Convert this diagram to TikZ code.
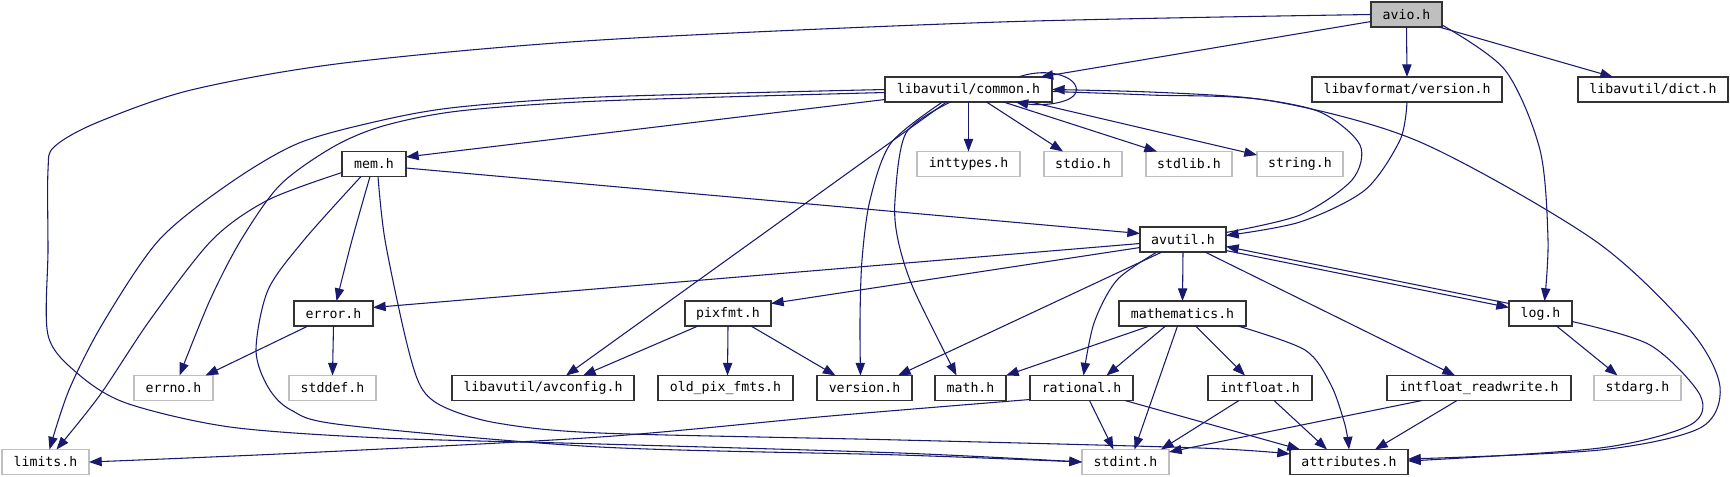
\documentclass[tikz,border=0pt]{standalone}
\usepackage{fontspec}
\newfontfamily\dvsm{DejaVu Sans Mono}
\usetikzlibrary{arrows.meta,calc}
\definecolor{navy}{HTML}{191970}
\definecolor{gfill}{HTML}{BFBFBF}
\begin{document}
\begin{tikzpicture}[x=0.75pt,y=-0.75pt,
  box/.style={line width=0.8pt, minimum width=#1*0.75pt, minimum height=18.75pt, inner sep=0pt, outer sep=0pt, font=\dvsm\fontsize{9.9}{12}\selectfont, text=black},
  blk/.style={box=#1, draw=black!80},
  sys/.style={box=#1, draw=gfill},
  dep/.style={draw=navy, line width=0.8pt, -{Triangle[length=9.5pt,width=7pt]}}]
\useasboundingbox[fill=white] (0,0) rectangle (1730,476);
% nodes
\node[blk=71, fill=gfill] (avio) at (1406.5,14.5) {avio.h};
\node[blk=167] (common) at (968.5,89.5) {libavutil/common.h};
\node[blk=190] (lavfv) at (1407,89.5) {libavformat/version.h};
\node[blk=150] (dict) at (1653,89.5) {libavutil/dict.h};
\node[blk=64] (mem) at (374,164) {mem.h};
\node[sys=103] (inttypes) at (968.5,164) {inttypes.h};
\node[sys=78] (stdio) at (1083,164) {stdio.h};
\node[sys=86] (stdlib) at (1189,164) {stdlib.h};
\node[sys=86] (string) at (1300,164) {string.h};
\node[blk=86] (avutil) at (1183,239.5) {avutil.h};
\node[blk=79] (error) at (333.5,313.5) {error.h};
\node[blk=86] (pixfmt) at (728,313.5) {pixfmt.h};
\node[blk=127] (mathematics) at (1182.5,313.5) {mathematics.h};
\node[blk=63] (log) at (1540.5,313.5) {log.h};
\node[sys=79] (errno) at (173.5,388) {errno.h};
\node[sys=87] (stddef) at (332.5,388) {stddef.h};
\node[blk=182] (avconfig) at (543,388) {libavutil/avconfig.h};
\node[blk=135] (oldpix) at (725.5,388) {old\_pix\_fmts.h};
\node[blk=95] (version) at (864.5,388) {version.h};
\node[blk=71] (math) at (970.5,388) {math.h};
\node[blk=103] (rational) at (1081.5,388) {rational.h};
\node[blk=104] (intfloat) at (1260,388) {intfloat.h};
\node[blk=184] (intfloatrw) at (1479,388) {intfloat\_readwrite.h};
\node[sys=87] (stdarg) at (1637.5,388) {stdarg.h};
\node[sys=87] (limits) at (45.5,462) {limits.h};
\node[sys=87] (stdint) at (1125.5,462) {stdint.h};
\node[blk=118] (attributes) at (1349,462) {attributes.h};
% avio.h
\draw[dep] ($(avio.west)+(0,7)$) -- ($(common.north)+(72,0)$);
\draw[dep] (avio.south) -- (lavfv.north);
\draw[dep] ($(avio.south east)+(-3,0)$) -- ($(dict.north)+(-40,0)$);
\draw[dep] plot[smooth] coordinates {($(avio.south east)+(0,-2)$) (1505,70) (1540,150) (1548,240) ($(log.north)+(4,0)$)};
\draw[dep] plot[smooth] coordinates {(avio.west) (1000,22) (600,40) (344,63) (191,90) (96,123) (54,147) (48,170) (48,250) (48,335) (77,373) (126,403) (230,427) (383,438) (600,444) (900,453) (stdint.west)};
% common.h
\draw[dep] ($(common.north)+(50,0)$) .. controls (1050,66) and (1080,78) .. (1076,92) .. controls (1072,104) and (1040,106) .. ($(common.south)+(47,0)$);
\draw[dep] ($(common.west)+(0,10)$) -- ($(mem.east)+(0,-7)$);
\draw[dep] plot[smooth] coordinates {(common.west) (600,97) (459,107) (383,120) (299,143) (230,183) (159,240) (103,323) (69,390) ($(limits.north)+(4,0)$)};
\draw[dep] plot[smooth] coordinates {($(common.west)+(0,3)$) (600,101) (459,111) (383,126) (333,147) (280,185) (241,240) (210,300) ($(errno.north)+(6,0)$)};
\draw[dep] (common.south) -- (inttypes.north);
\draw[dep] ($(common.south)+(18,0)$) -- ($(stdio.north)+(-20,0)$);
\draw[dep] ($(common.south)+(35,0)$) -- ($(stdlib.north)+(-32,0)$);
\draw[dep] ($(common.south)+(62,0)$) -- ($(string.west)+(0,-9)$);
\draw[dep] ($(common.south)+(-22,0)$) -- ($(avconfig.north)+(23,0)$);
\draw[dep] plot[smooth] coordinates {($(common.south)+(-26,0)$) (891,143) (870,200) (862,260) (860,320) ($(version.north)+(-4,0)$)};
\draw[dep] plot[smooth] coordinates {($(common.south)+(-18,0)$) (906,133) (895,200) (898,240) (914,290) ($(math.north)+(-14,0)$)};
\draw[dep] plot[smooth] coordinates {($(common.east)+(0,2)$) (1150,95) (1272,101) (1420,142) (1594,240) (1690,330) (1720,387) (1700,428) (1600,450) ($(attributes.east)+(0,-3)$)};
% avutil.h
\draw[dep] plot[smooth] coordinates {($(avutil.east)+(0,-7)$) (1300,215) (1352,180) (1360,145) (1320,112) (1250,98) (1150,92) (common.east)};
\draw[dep] plot[smooth] coordinates {(lavfv.south) (1400,140) (1365,190) (1300,222) ($(avutil.east)+(0,-4)$)};
\draw[dep] ($(avutil.west)+(0,4)$) -- ($(error.east)+(0,-6)$);
\draw[dep] ($(avutil.west)+(0,8)$) -- ($(pixfmt.east)+(0,-10)$);
\draw[dep] ($(avutil.south west)+(22,0)$) -- ($(version.north east)+(-14,0)$);
\draw[dep] plot[smooth] coordinates {($(avutil.south)+(-26,0)$) (1117,280) (1094,323) ($(rational.north)+(2,0)$)};
\draw[dep] (avutil.south) -- (mathematics.north);
\draw[dep] ($(avutil.south)+(22,0)$) -- ($(intfloatrw.north)+(-24,0)$);
\draw[dep] ($(avutil.east)+(0,11)$) -- ($(log.west)+(0,-6)$);
\draw[dep] ($(log.west)+(0,-10)$) -- ($(avutil.east)+(0,7)$);
% mem.h
\draw[dep] ($(mem.east)+(0,4)$) -- ($(avutil.west)+(0,-6)$);
\draw[dep] plot[smooth] coordinates {($(mem.south)+(-4,0)$) (352,240) ($(error.north)+(3,0)$)};
\draw[dep] plot[smooth] coordinates {($(mem.south west)+(0,-4)$) (268,200) (212,240) (150,320) (100,395) ($(limits.north)+(11,0)$)};
\draw[dep] plot[smooth] coordinates {($(mem.south)+(-13,0)$) (304,240) (268,290) (256,350) (268,387) (291,410) (344,425) (600,447) (900,455) (stdint.west)};
\draw[dep] plot[smooth] coordinates {($(mem.south)+(4,0)$) (385,240) (406,340) (421,387) (444,407) (497,423) (600,433) (900,440) (1200,448) ($(attributes.west)+(0,-8)$)};
% error.h, pixfmt.h
\draw[dep] ($(error.south west)+(14,0)$) -- ($(errno.north)+(32,0)$);
\draw[dep] (error.south) -- (stddef.north);
\draw[dep] ($(pixfmt.south)+(-30,0)$) -- ($(avconfig.north)+(40,0)$);
\draw[dep] (pixfmt.south) -- ($(oldpix.north)+(2,0)$);
\draw[dep] ($(pixfmt.south)+(23,0)$) -- ($(version.north)+(-29,0)$);
% mathematics.h
\draw[dep] ($(mathematics.south)+(-33,0)$) -- (math.north east);
\draw[dep] ($(mathematics.south)+(-17,0)$) -- ($(rational.north)+(25,0)$);
\draw[dep] ($(mathematics.south)+(-5,0)$) -- ($(stdint.north)+(9,0)$);
\draw[dep] ($(mathematics.south)+(13,0)$) -- ($(intfloat.north)+(-15,0)$);
\draw[dep] plot[smooth] coordinates {($(mathematics.south east)+(-8,0)$) (1305,350) (1331,385) (1345,425) (attributes.north)};
% rational.h
\draw[dep] ($(rational.south)+(8,0)$) -- ($(stdint.north)+(-12,0)$);
\draw[dep] ($(rational.south east)+(-8,0)$) -- ($(attributes.north west)+(10,0)$);
\draw[dep] plot[smooth] coordinates {($(rational.south west)+(0,-1)$) (830,416) (600,437) (300,453) (limits.east)};
% intfloat.h, intfloat_readwrite.h
\draw[dep] ($(intfloat.south)+(-21,0)$) -- ($(stdint.north east)+(-8,0)$);
\draw[dep] ($(intfloat.south)+(14,0)$) -- ($(attributes.north)+(-22,0)$);
\draw[dep] ($(intfloatrw.south)+(-57,0)$) -- ($(stdint.east)+(0,-10)$);
\draw[dep] ($(intfloatrw.south)+(-22,0)$) -- ($(attributes.north)+(26,0)$);
% log.h
\draw[dep] ($(log.south)+(16,0)$) -- ($(stdarg.north)+(-20,0)$);
\draw[dep] plot[smooth] coordinates {($(log.east)+(0,8)$) (1650,345) (1700,395) (1690,425) (1600,448) ($(attributes.east)+(0,-1)$)};
\end{tikzpicture}
\end{document}
